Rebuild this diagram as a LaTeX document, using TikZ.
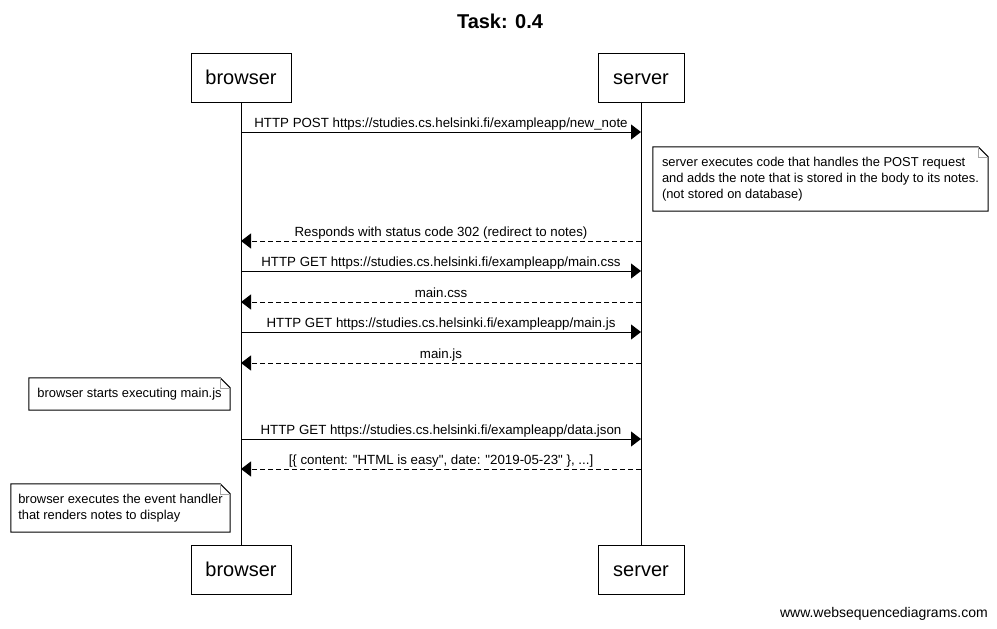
\documentclass[tikz,border=0pt]{standalone}
\usepackage{fontspec}
\setmainfont{Liberation Sans}[Ligatures=TeXOff]
\usetikzlibrary{arrows.meta}
\tikzset{
  actor/.style={draw,line width=1pt,minimum height=49pt,inner sep=0pt,text height=14.5pt,text depth=0pt,font=\fontsize{20}{24}\selectfont},
  msg/.style={line width=1pt,-{Triangle[length=10pt,width=15pt]}},
  reply/.style={msg,dash pattern=on 5pt off 3pt},
  lbl/.style={above,inner sep=0pt,text depth=4pt,font=\fontsize{13.3}{15}\selectfont},
  notebox/.style={align=left,inner sep=0pt,font=\fontsize{12.9}{16}\selectfont},
}
% 折り返し付きのノート枠
\newcommand{\notefold}[1]{%
  \draw[line width=1pt] (#1.north west) -- ([xshift=-10pt]#1.north east)
    -- ([yshift=-10pt]#1.north east) -- (#1.south east) -- (#1.south west) -- cycle;
  \draw[gray!70] ([xshift=-10pt]#1.north east) |- ([yshift=-10pt]#1.north east);
}
\begin{document}
\begin{tikzpicture}[x=1pt,y=-1pt]
\useasboundingbox (0,0) rectangle (997,629);
% タイトル
\node[font=\fontsize{20}{24}\selectfont\bfseries] (title) at (500,21) {Task: 0.4};
% ライフライン
\node[actor,minimum width=100pt] (browser) at (241,77.5) {browser};
\node[actor,minimum width=86pt] (server) at (641,77.5) {server};
\node[actor,minimum width=100pt] (browserend) at (241,569.5) {browser};
\node[actor,minimum width=86pt] (serverend) at (641,569.5) {server};
\draw[line width=1pt] (browser) -- (browserend);
\draw[line width=1pt] (server) -- (serverend);
% メッセージの端点
\foreach \name/\y in {1/132,2/241,3/271,4/302,5/332,6/363,7/439,8/469}{
  \coordinate (b\name) at (241,\y);
  \coordinate (s\name) at (641,\y);
}
% メッセージ
\draw[msg] (b1) -- (s1) node[lbl,midway] {HTTP POST https://studies.cs.helsinki.fi/exampleapp/new\_note};
\draw[reply] (s2) -- (b2) node[lbl,midway] {Responds with status code 302 (redirect to notes)};
\draw[msg] (b3) -- (s3) node[lbl,midway] {HTTP GET https://studies.cs.helsinki.fi/exampleapp/main.css};
\draw[reply] (s4) -- (b4) node[lbl,midway] {main.css};
\draw[msg] (b5) -- (s5) node[lbl,midway] {HTTP GET https://studies.cs.helsinki.fi/exampleapp/main.js};
\draw[reply] (s6) -- (b6) node[lbl,midway] {main.js};
\draw[msg] (b7) -- (s7) node[lbl,midway] {HTTP GET https://studies.cs.helsinki.fi/exampleapp/data.json};
\draw[reply] (s8) -- (b8) node[lbl,midway] {[\{ content: "HTML is easy", date: "2019-05-23" \}, ...]};
% ノート
\node[notebox,minimum width=335pt,minimum height=64pt] (note1) at (820.5,179)
  {server executes code that handles the POST request\\and adds the note that is stored in the body to its notes.\\(not stored on database)};
\notefold{note1}
\node[notebox,minimum width=201pt,minimum height=32pt] (note2) at (129.5,394)
  {browser starts executing main.js};
\notefold{note2}
\node[notebox,minimum width=219pt,minimum height=48pt] (note3) at (120.5,508)
  {browser executes the event handler\\that renders notes to display};
\notefold{note3}
% 透かし
\node[anchor=base east,inner sep=0pt,font=\fontsize{14}{16}\selectfont] (credit) at (988,617) {www.websequencediagrams.com};
\end{tikzpicture}
\end{document}
